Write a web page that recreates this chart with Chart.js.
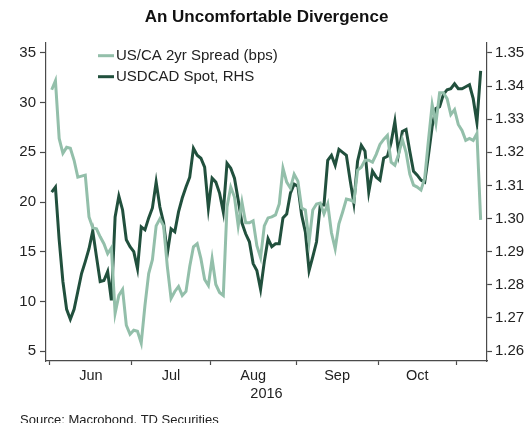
<!DOCTYPE html>
<html>
<head>
<meta charset="utf-8">
<title>An Uncomfortable Divergence</title>
<script src="https://cdn.jsdelivr.net/npm/chart.js@4.4.1/dist/chart.umd.min.js"></script>
<style>
    html, body { margin: 0; padding: 0; background: #fff; }
    #wrap { width: 527px; height: 423px; position: relative; }
</style>
</head>
<body>
<div id="wrap"><canvas id="divergenceChart"></canvas></div>
<script>
(function() {
    'use strict';

    // business days from 1 Jun 2016; month names sit between the month edges
    var monthNames = ['Jun', 'Jul', 'Aug', 'Sep', 'Oct'];
    var monthEdges = [-0.5, 21.5, 42.5, 65.5, 87.5, 108.5];
    var leftTicks = [5, 10, 15, 20, 25, 30, 35];
    var rightTicks = [1.26, 1.27, 1.28, 1.29, 1.30, 1.31, 1.32, 1.33, 1.34, 1.35];

    // US/CA 2yr spread, bps
    var spreadBps = [
        31.3, 32.2, 26.4, 24.9, 25.5, 25.4, 24.2, 22.5, 22.6, 22.7,
        18.5, 17.4, 17.3, 16.5, 15.8, 14.8, 15.4, 8.8, 10.6, 11.2,
        7.6, 6.7, 7.1, 7.0, 5.8, 9.6, 12.8, 14.2, 17.6, 18.3,
        17.6, 13.5, 10.3, 11.0, 11.5, 10.6, 11.0, 13.5, 15.5, 15.8,
        14.3, 12.2, 11.6, 14.3, 11.7, 10.9, 10.6, 19.5, 21.5, 20.5,
        17.6, 20.0, 17.9, 17.9, 18.1, 15.6, 14.4, 17.6, 18.4, 18.5,
        18.7, 19.8, 23.4, 22.0, 21.4, 22.8, 22.1, 19.4, 19.2, 16.0,
        19.2, 19.8, 19.9, 18.8, 19.8, 16.9, 15.3, 17.8, 19.0, 20.3,
        20.2, 20.0, 23.2, 23.5, 24.2, 24.2, 24.0, 24.8, 25.8, 26.3,
        26.7, 24.0, 23.7, 24.8, 26.3, 25.0, 22.8, 21.7, 21.5, 21.2,
        22.4, 26.2, 29.8, 27.9, 31.0, 31.0, 30.4, 28.8, 29.3, 27.8,
        27.2, 26.2, 26.4, 26.2, 26.9, 18.2
    ];

    // USDCAD spot, right hand scale
    var usdcadSpot = [
        1.3080, 1.3095, 1.2936, 1.2810, 1.2726, 1.2696, 1.2726, 1.2780, 1.2834, 1.2870,
        1.2909, 1.2963, 1.2885, 1.2810, 1.2813, 1.2840, 1.2753, 1.3005, 1.3068, 1.3026,
        1.2936, 1.2915, 1.2900, 1.2849, 1.2975, 1.2966, 1.3002, 1.3032, 1.3110, 1.3035,
        1.2987, 1.2894, 1.2969, 1.2960, 1.3020, 1.3062, 1.3095, 1.3125, 1.3212, 1.3191,
        1.3182, 1.3155, 1.3032, 1.3122, 1.3110, 1.3077, 1.3020, 1.3167, 1.3152, 1.3122,
        1.3056, 1.2987, 1.2954, 1.2930, 1.2864, 1.2843, 1.2786, 1.2870, 1.2939, 1.2915,
        1.2924, 1.2924, 1.3002, 1.3014, 1.3077, 1.3104, 1.3098, 1.3011, 1.2960, 1.2843,
        1.2885, 1.2930, 1.3041, 1.3041, 1.3176, 1.3191, 1.3161, 1.3209, 1.3200, 1.3191,
        1.3116, 1.3047, 1.3173, 1.3221, 1.3203, 1.3080, 1.3143, 1.3125, 1.3116, 1.3182,
        1.3188, 1.3230, 1.3293, 1.3197, 1.3263, 1.3269, 1.3203, 1.3143, 1.3131, 1.3116,
        1.3110, 1.3191, 1.3278, 1.3332, 1.3338, 1.3374, 1.3389, 1.3392, 1.3407, 1.3392,
        1.3392, 1.3398, 1.3404, 1.3362, 1.3290, 1.3446
    ];

    var LIGHT = '#93bfaa';
    var DARK = '#21503d';
    var AXIS = '#4a4a4a';
    var TEXT = '#222';
    var FONT = "'Liberation Sans', Arial, sans-serif";

    function toPoints(values) {
        return values.map(function(v, i) { return { x: i, y: v }; });
    }

    function monthMids() {
        var mids = [];
        for (var i = 0; i < monthNames.length; i++) {
            mids.push((monthEdges[i] + monthEdges[i + 1]) / 2);
        }
        return mids;
    }

    function isEdge(value) {
        return monthEdges.indexOf(value) !== -1;
    }

    // legend drawn inside the plot, top left
    var insideLegend = {
        id: 'insideLegend',
        afterDraw: function(chart) {
            var ctx = chart.ctx;
            var area = chart.chartArea;
            ctx.save();
            ctx.font = '15px ' + FONT;
            ctx.textBaseline = 'middle';
            ctx.textAlign = 'left';
            chart.data.datasets.forEach(function(ds, i) {
                var y = area.top + 12.7 + i * 21;
                ctx.strokeStyle = ds.borderColor;
                ctx.lineWidth = 3;
                ctx.beginPath();
                ctx.moveTo(area.left + 52, y);
                ctx.lineTo(area.left + 68, y);
                ctx.stroke();
                ctx.fillStyle = TEXT;
                ctx.fillText(ds.label, area.left + 70, y);
            });
            ctx.restore();
        }
    };

    function initChart() {
        var canvas = document.getElementById('divergenceChart');
        if (!canvas || typeof Chart === 'undefined') return;

        new Chart(canvas.getContext('2d'), {
            type: 'line',
            data: {
                datasets: [{
                    label: 'US/CA 2yr Spread (bps)',
                    data: toPoints(spreadBps),
                    borderColor: LIGHT,
                    borderWidth: 3,
                    pointRadius: 0,
                    tension: 0,
                    yAxisID: 'y'
                }, {
                    label: 'USDCAD Spot, RHS',
                    data: toPoints(usdcadSpot),
                    borderColor: DARK,
                    borderWidth: 3,
                    pointRadius: 0,
                    tension: 0,
                    yAxisID: 'y1'
                }]
            },
            options: {
                responsive: true,
                maintainAspectRatio: false,
                animation: false,
                layout: { padding: { left: 20, right: 0, top: 0, bottom: 0 } },
                plugins: {
                    legend: { display: false },
                    tooltip: { enabled: false },
                    title: {
                        display: true,
                        fullSize: false,
                        text: 'An Uncomfortable Divergence',
                        color: '#111',
                        font: { size: 17, weight: 'bold', family: FONT },
                        padding: { top: 7, bottom: 15.6 }
                    },
                    subtitle: {
                        display: true,
                        position: 'bottom',
                        align: 'start',
                        text: 'Source: Macrobond, TD Securities',
                        color: TEXT,
                        font: { size: 13, family: FONT, lineHeight: 0.4 },
                        padding: { top: 9.8, bottom: 0 }
                    }
                },
                scales: {
                    x: {
                        type: 'linear',
                        min: -1.53,
                        max: 116.7,
                        afterBuildTicks: function(scale) {
                            scale.ticks = monthEdges.concat(monthMids())
                                .sort(function(a, b) { return a - b; })
                                .map(function(v) { return { value: v }; });
                        },
                        afterFit: function(scale) { scale.height = 47; },
                        grid: {
                            drawOnChartArea: false,
                            drawTicks: true,
                            tickLength: 4,
                            tickWidth: 1.2,
                            tickColor: function(c) {
                                return c.tick && isEdge(c.tick.value) ? AXIS : 'rgba(0,0,0,0)';
                            }
                        },
                        border: { display: true, color: AXIS, width: 1.2 },
                        ticks: {
                            autoSkip: false,
                            maxRotation: 0,
                            padding: 2,
                            color: TEXT,
                            font: { size: 14.5, family: FONT },
                            callback: function(value) {
                                var i = monthMids().indexOf(value);
                                return i === -1 ? '' : monthNames[i];
                            }
                        },
                        title: {
                            display: true,
                            text: '2016',
                            color: TEXT,
                            font: { size: 14.5, family: FONT },
                            padding: { top: 0, bottom: 5 }
                        }
                    },
                    y: {
                        position: 'left',
                        min: 4,
                        max: 36,
                        afterBuildTicks: function(scale) {
                            scale.ticks = leftTicks.map(function(v) { return { value: v }; });
                        },
                        afterFit: function(scale) { scale.width = 26; },
                        grid: {
                            drawOnChartArea: false,
                            tickLength: 6,
                            tickWidth: 1.2,
                            tickColor: AXIS
                        },
                        border: { display: true, color: AXIS, width: 1.2 },
                        ticks: {
                            padding: 4,
                            color: TEXT,
                            font: { size: 15, family: FONT }
                        }
                    },
                    y1: {
                        position: 'right',
                        min: 1.257,
                        max: 1.353,
                        afterBuildTicks: function(scale) {
                            scale.ticks = rightTicks.map(function(v) { return { value: v }; });
                        },
                        afterFit: function(scale) { scale.width = 40; },
                        grid: {
                            drawOnChartArea: false,
                            tickLength: 5,
                            tickWidth: 1.2,
                            tickColor: AXIS
                        },
                        border: { display: true, color: AXIS, width: 1.2 },
                        ticks: {
                            padding: 3,
                            color: TEXT,
                            font: { size: 15, family: FONT },
                            callback: function(value) { return value.toFixed(2); }
                        }
                    }
                }
            },
            plugins: [insideLegend]
        });
    }

    document.addEventListener('DOMContentLoaded', initChart);
})();
</script>
</body>
</html>
